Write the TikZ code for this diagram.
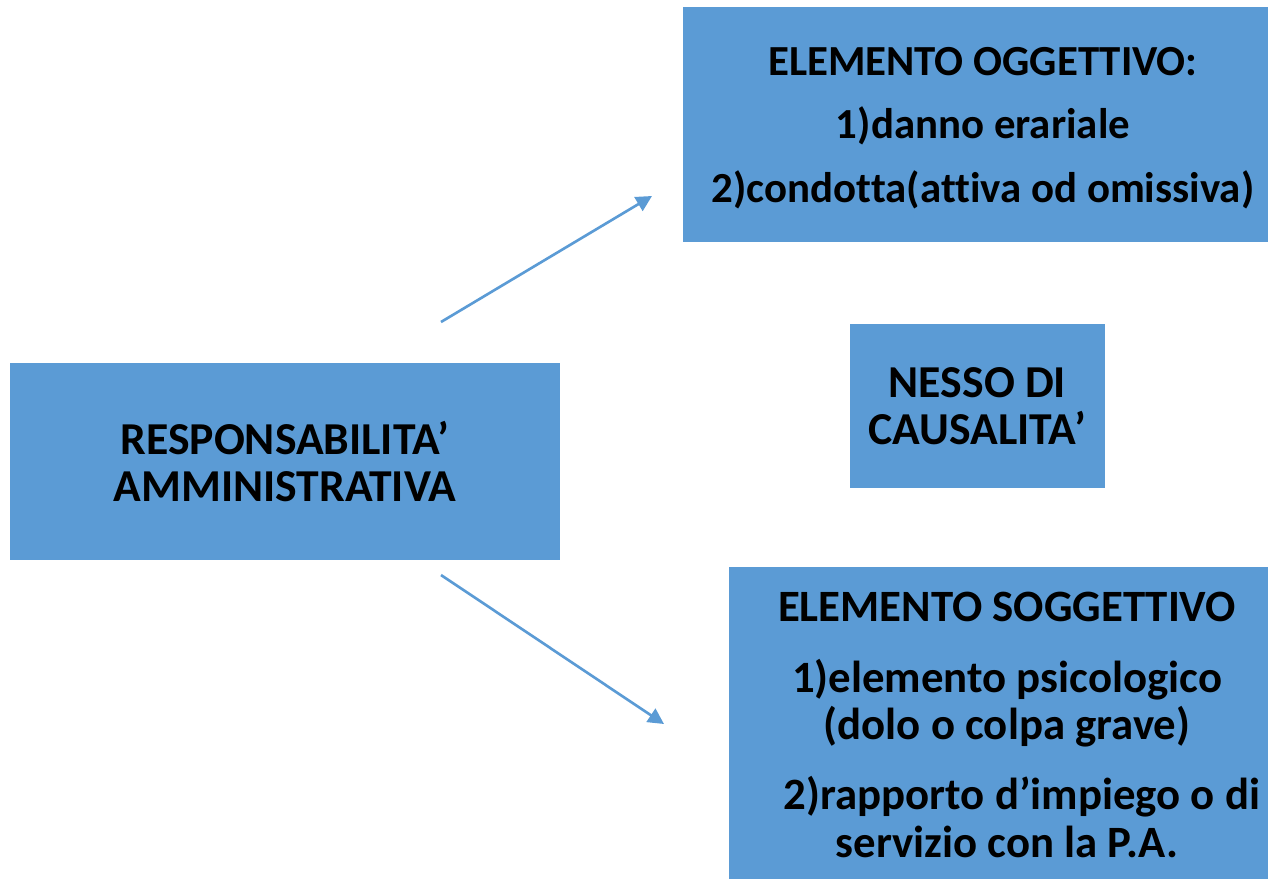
\documentclass[tikz,border=0pt]{standalone}
\usepackage{fontspec}
\setmainfont[Ligatures=NoCommon]{Carlito}
\usetikzlibrary{arrows.meta}
\definecolor{boxblue}{HTML}{5B9BD5}
\tikzset{
    blue-box/.style = {fill=boxblue, rectangle, inner sep=0pt, align=center, font=\bfseries\fontsize{26}{27}\selectfont},
    blue-text/.style = {inner sep=0pt, align=center, font=\bfseries\fontsize{#1}{27}\selectfont},
    blue-arrow/.style = {draw=boxblue, line width=1.5pt, -{Triangle[length=9pt, width=9pt]}},
}

\begin{document}
\begin{tikzpicture}[x=0.02cm, y=-0.02cm]
\useasboundingbox (0,0) rectangle (1268,879);
\node[blue-box, minimum width=11cm, minimum height=3.94cm] (resp) at (285,461.5)
    {RESPONSABILITA’\\AMMINISTRATIVA};
\node[blue-box, minimum width=11.7cm, minimum height=4.7cm] (oggettivo) at (975.5,124.5) {};
\node[blue-text=24.4] (oggettivo-text) at (983,128)
    {ELEMENTO OGGETTIVO:\\[9pt]1)danno erariale\\[9pt]2)condotta(attiva od omissiva)};
\node[blue-box, minimum width=5.1cm, minimum height=3.28cm] (nesso) at (977.5,406)
    {NESSO DI\\CAUSALITA’};
\node[blue-box, minimum width=10.78cm, minimum height=6.24cm] (soggettivo) at (998.5,723) {};
\node[blue-text=25.5] (soggettivo-text) at (1007,725)
    {ELEMENTO SOGGETTIVO\\[13pt]1)elemento psicologico\\(dolo o colpa grave)\\[13pt]\hspace*{0.6cm}2)rapporto d’impiego o di\\servizio con la P.A.};
% frecce
\coordinate (up-start) at (441,322);
\coordinate (up-end) at (652,196);
\coordinate (down-start) at (441,575);
\coordinate (down-end) at (664,724);
\draw[blue-arrow] (up-start) -- (up-end);
\draw[blue-arrow] (down-start) -- (down-end);
\end{tikzpicture}
\end{document}
